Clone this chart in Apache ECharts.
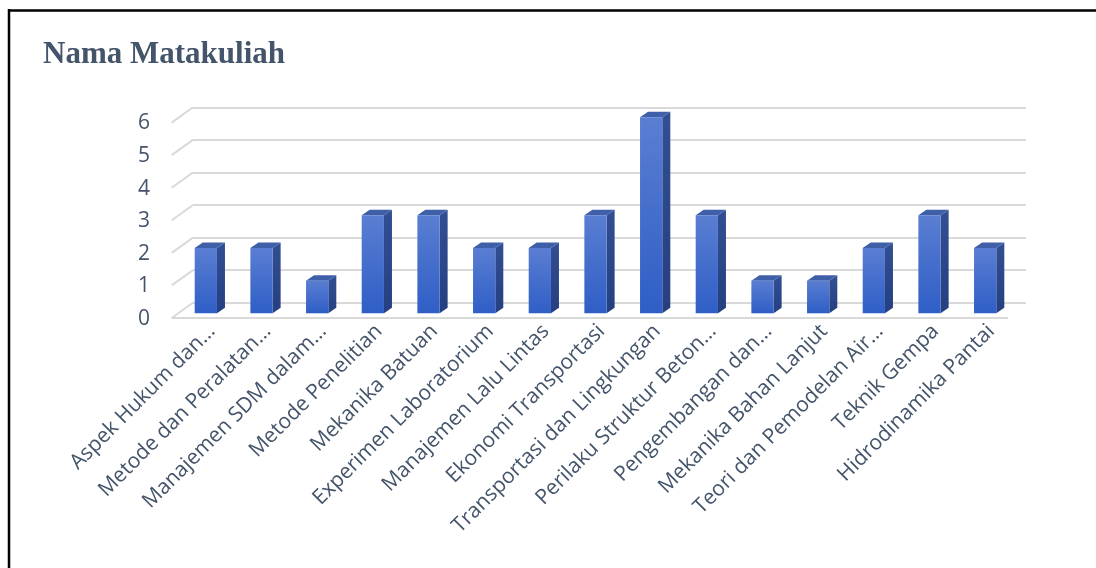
<!DOCTYPE html>
<html>
<head>
<meta charset="utf-8">
<script src="https://cdn.jsdelivr.net/npm/echarts@6/dist/echarts.min.js"></script>
<style>
html,body{margin:0;padding:0;background:#fff;}
#chart{width:1096px;height:568px;}
</style>
</head>
<body>
<div id="chart"></div>
<script>
const categories = [
  "Aspek Hukum dan…",
  "Metode dan Peralatan…",
  "Manajemen SDM dalam…",
  "Metode Penelitian",
  "Mekanika Batuan",
  "Experimen Laboratorium",
  "Manajemen Lalu Lintas",
  "Ekonomi Transportasi",
  "Transportasi dan Lingkungan",
  "Perilaku Struktur Beton…",
  "Pengembangan dan…",
  "Mekanika Bahan Lanjut",
  "Teori dan Pemodelan Air…",
  "Teknik Gempa",
  "Hidrodinamika Pantai"
];
const values = [2, 2, 1, 3, 3, 2, 2, 3, 6, 3, 1, 1, 2, 3, 2];
const yTicks = [0, 1, 2, 3, 4, 5, 6];
const titleText = "Nama Matakuliah";

const W = 1096, H = 568;
const textColor = "#44546A";
const gridColor = "#D9D9D9";
const DX = 8, DY = 5.5;          // bar depth
const WALL_DX = 21.3, WALL_DY = 15.3; // side wall depth

const chart = echarts.init(document.getElementById('chart'), null, {renderer: 'canvas'});

const option = {
  backgroundColor: '#fff',
  animation: false,
  title: {
    text: titleText,
    left: 38, top: 34,
    textStyle: {fontFamily: 'Liberation Serif', fontWeight: 'bold', fontSize: 31, color: textColor}
  },
  graphic: [
    {type: 'line', shape: {x1: 9, y1: 9, x2: 9, y2: H}, style: {stroke: '#000', lineWidth: 2.5}},
    {type: 'line', shape: {x1: 8, y1: 10.5, x2: W, y2: 10.5}, style: {stroke: '#000', lineWidth: 2.5}}
  ],
  grid: [
    // bars (front plane of bars)
    {left: 178, right: W - 1013, top: 117.3, bottom: H - 313.3},
    // back wall
    {left: 193, right: W - 1026, top: 107.3, bottom: H - 302.7},
    // y labels (front-left edge)
    {left: 172, right: W - 1008, top: 123.5, bottom: H - 319},
    // x labels
    {left: 184, right: W - 1019, top: 117.3, bottom: H - 318}
  ],
  xAxis: [
    {gridIndex: 0, type: 'category', data: categories, show: false},
    {gridIndex: 1, type: 'value', min: 0, max: 1, show: false},
    {gridIndex: 2, type: 'value', min: 0, max: 1, show: false},
    {gridIndex: 3, type: 'category', data: categories,
      axisLine: {show: false}, axisTick: {show: false},
      axisLabel: {rotate: 45, interval: 0, margin: 10, fontFamily: 'Open Sans', fontSize: 21, color: textColor}}
  ],
  yAxis: [
    {gridIndex: 0, type: 'value', min: 0, max: 6, interval: 1, show: false},
    {gridIndex: 1, type: 'value', min: 0, max: 6, interval: 1,
      axisLine: {show: false}, axisTick: {show: false}, axisLabel: {show: false},
      splitLine: {show: true, lineStyle: {color: gridColor, width: 2}}},
    {gridIndex: 2, type: 'value', min: 0, max: 6, interval: 1,
      axisLine: {show: false}, axisTick: {show: false}, splitLine: {show: false},
      axisLabel: {margin: 22, fontFamily: 'Open Sans', fontSize: 21, color: textColor}},
    {gridIndex: 3, type: 'value', min: 0, max: 6, interval: 1, show: false}
  ],
  series: [
    {
      name: 'wall',
      type: 'custom',
      xAxisIndex: 1, yAxisIndex: 1,
      silent: true,
      data: yTicks.map(t => [0, t]),
      renderItem: function (params, api) {
        const p = api.coord([0, api.value(1)]);
        const children = [{
          type: 'line',
          shape: {x1: p[0] - WALL_DX, y1: p[1] + WALL_DY, x2: p[0], y2: p[1]},
          style: {stroke: gridColor, lineWidth: 2}
        }];
        if (api.value(1) === 0) {
          const pr = api.coord([1, 0]);
          children.push({
            type: 'line',
            shape: {x1: p[0] - WALL_DX, y1: p[1] + WALL_DY, x2: pr[0] - 18, y2: pr[1] + WALL_DY},
            style: {stroke: gridColor, lineWidth: 2}
          });
        }
        return {type: 'group', children: children};
      },
      z: 1
    },
    {
      name: 'Jumlah',
      type: 'custom',
      xAxisIndex: 0, yAxisIndex: 0,
      data: values.map((v, i) => [i, v]),
      renderItem: function (params, api) {
        const i = api.value(0), v = api.value(1);
        const base = api.coord([i, 0]);
        const top = api.coord([i, v]);
        const w = api.size([1, 0])[0] * 0.40;
        const x0 = base[0] - w / 2, x1 = x0 + w;
        const yb = base[1], yt = top[1];
        return {
          type: 'group',
          children: [
            {
              type: 'polygon',
              shape: {points: [[x1, yt], [x1 + DX, yt - DY], [x1 + DX, yb - DY], [x1, yb]]},
              style: {fill: new echarts.graphic.LinearGradient(0, 0, 0, 1, [
                {offset: 0, color: '#324F93'}, {offset: 1, color: '#253F80'}])}
            },
            {
              type: 'polygon',
              shape: {points: [[x0, yt], [x0 + DX, yt - DY], [x1 + DX, yt - DY], [x1, yt]]},
              style: {fill: '#3F5FA9'}
            },
            {
              type: 'rect',
              shape: {x: x0, y: yt, width: w, height: yb - yt},
              style: {fill: new echarts.graphic.LinearGradient(0, 0, 0, 1, [
                {offset: 0, color: '#5A7ED2'}, {offset: 1, color: '#2F5EC6'}])}
            }
          ]
        };
      },
      z: 2
    }
  ]
};
chart.setOption(option);
</script>
</body>
</html>
